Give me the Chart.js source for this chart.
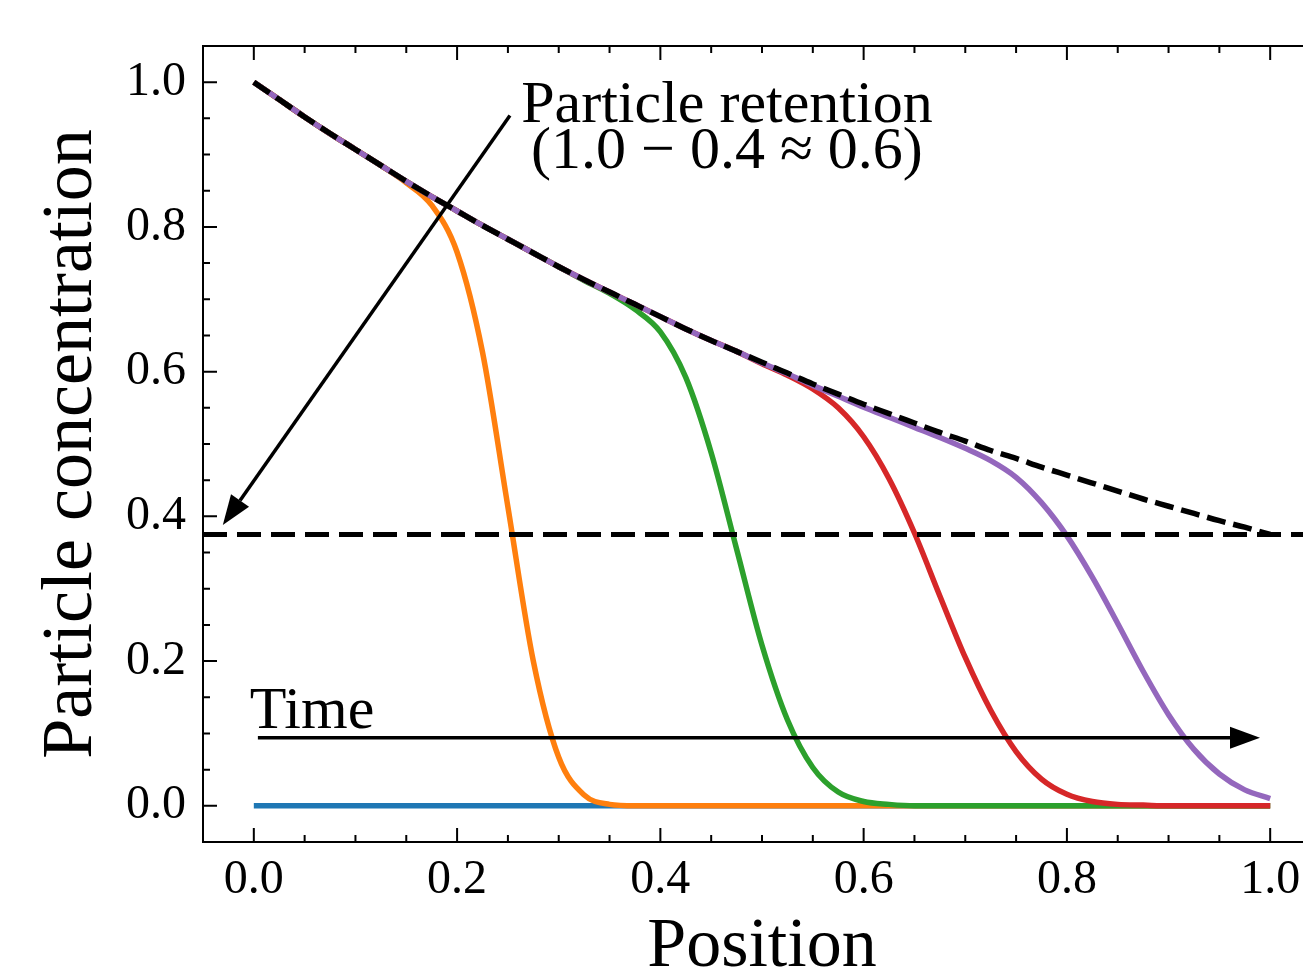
<!DOCTYPE html>
<html>
<head>
<meta charset="utf-8">
<script src="https://cdn.jsdelivr.net/npm/chart.js@4.4.1/dist/chart.umd.min.js"></script>
<style>
  html, body { margin: 0; padding: 0; background: #fff; overflow: hidden; }
  canvas { display: block; }
</style>
</head>
<body>
<canvas id="myChart" width="1341" height="1000" style="width:1341px;height:1000px"></canvas>
<script>
//data block
const positions = [0, 0.025, 0.05, 0.075, 0.1, 0.125, 0.15, 0.175, 0.2, 0.225,
  0.25, 0.275, 0.3, 0.325, 0.35, 0.375, 0.4, 0.425, 0.45, 0.475,
  0.5, 0.525, 0.55, 0.575, 0.6, 0.625, 0.65, 0.675, 0.7, 0.725,
  0.75, 0.775, 0.8, 0.825, 0.85, 0.875, 0.9, 0.925, 0.95, 0.975, 1.0];

const envelope = [1.000, 0.976, 0.952, 0.929, 0.907, 0.885, 0.863, 0.842, 0.822, 0.802,
  0.783, 0.764, 0.745, 0.727, 0.710, 0.693, 0.676, 0.659, 0.643, 0.628,
  0.613, 0.598, 0.583, 0.569, 0.555, 0.542, 0.529, 0.516, 0.504, 0.491,
  0.480, 0.468, 0.457, 0.446, 0.435, 0.424, 0.414, 0.404, 0.394, 0.385, 0.375];

const timeBlue = [0, 0, 0, 0, 0, 0, 0, 0, 0, 0,
  0, 0, 0, 0, 0, 0, 0, 0, 0, 0,
  0, 0, 0, 0, 0, 0, 0, 0, 0, 0,
  0, 0, 0, 0, 0, 0, 0, 0, 0, 0, 0];

const timeOrange = [1.000, 0.976, 0.952, 0.929, 0.907, 0.885, 0.861, 0.830, 0.765, 0.627,
  0.413, 0.200, 0.067, 0.015, 0.002, 0, 0, 0, 0, 0,
  0, 0, 0, 0, 0, 0, 0, 0, 0, 0,
  0, 0, 0, 0, 0, 0, 0, 0, 0, 0, 0];

const timeGreen = [1.000, 0.976, 0.952, 0.929, 0.907, 0.885, 0.863, 0.842, 0.822, 0.802,
  0.783, 0.764, 0.745, 0.726, 0.708, 0.686, 0.655, 0.592, 0.488, 0.355,
  0.222, 0.119, 0.053, 0.019, 0.006, 0.002, 0, 0, 0, 0,
  0, 0, 0, 0, 0, 0, 0, 0, 0, 0, 0];

const timeRed = [1.000, 0.976, 0.952, 0.929, 0.907, 0.885, 0.863, 0.842, 0.822, 0.802,
  0.783, 0.764, 0.745, 0.727, 0.710, 0.693, 0.676, 0.659, 0.643, 0.628,
  0.611, 0.595, 0.576, 0.550, 0.510, 0.452, 0.377, 0.290, 0.205, 0.132,
  0.075, 0.037, 0.016, 0.006, 0.002, 0.001, 0, 0, 0, 0, 0];

const timePurple = [1.000, 0.976, 0.952, 0.929, 0.907, 0.885, 0.863, 0.842, 0.822, 0.802,
  0.783, 0.764, 0.745, 0.727, 0.710, 0.693, 0.676, 0.659, 0.643, 0.628,
  0.612, 0.597, 0.581, 0.566, 0.551, 0.537, 0.523, 0.509, 0.494, 0.477,
  0.454, 0.419, 0.373, 0.316, 0.252, 0.186, 0.126, 0.078, 0.044, 0.022, 0.010];

const retentionLevel = 0.375;
const xTicks = [0, 0.2, 0.4, 0.6, 0.8, 1.0];
const yTicks = [0, 0.2, 0.4, 0.6, 0.8, 1.0];

//setup block
const pts = arr => positions.map((p, i) => ({x: p, y: arr[i]}));

const solid = (label, color, arr, order) => ({
  label,
  data: pts(arr),
  borderColor: color,
  borderWidth: 5.5,
  pointRadius: 0,
  fill: false,
  cubicInterpolationMode: 'monotone',
  borderCapStyle: 'butt',
  order
});

const data = {
  datasets: [
    solid('t0', '#1f77b4', timeBlue, 7),
    solid('t1', '#ff7f0e', timeOrange, 6),
    solid('t2', '#2ca02c', timeGreen, 5),
    solid('t3', '#d62728', timeRed, 4),
    solid('t4', '#9467bd', timePurple, 3),
    {
      label: 'envelope',
      data: pts(envelope),
      borderColor: '#000',
      borderWidth: 5.5,
      borderDash: [19, 8],
      pointRadius: 0,
      cubicInterpolationMode: 'monotone',
      order: 2
    },
    {
      label: 'retention',
      data: [{x: -0.05, y: retentionLevel}, {x: 1.05, y: retentionLevel}],
      borderColor: '#000',
      borderWidth: 5,
      borderDash: [24, 10],
      pointRadius: 0,
      order: 1
    }
  ]
};

const FONT = '"Liberation Serif", "DejaVu Serif", serif';

function arrow(ctx, x0, y0, x1, y1) {
  const ang = Math.atan2(y1 - y0, x1 - x0);
  const hl = 30, hw = 11;
  const bx = x1 - hl * Math.cos(ang), by = y1 - hl * Math.sin(ang);
  ctx.beginPath();
  ctx.moveTo(x0, y0);
  ctx.lineTo(bx, by);
  ctx.stroke();
  ctx.beginPath();
  ctx.moveTo(x1, y1);
  ctx.lineTo(bx + hw * Math.sin(ang), by - hw * Math.cos(ang));
  ctx.lineTo(bx - hw * Math.sin(ang), by + hw * Math.cos(ang));
  ctx.closePath();
  ctx.fill();
}

// frame, inward ticks on all sides, arrows and notes
const frameAndNotes = {
  id: 'frameAndNotes',
  afterDatasetsDraw(chart) {
    const {ctx, chartArea: a, scales: {x, y}} = chart;
    ctx.save();
    ctx.strokeStyle = '#000';
    ctx.fillStyle = '#000';
    ctx.lineWidth = 2;
    ctx.strokeRect(a.left, a.top, a.right - a.left, a.bottom - a.top);

    ctx.beginPath();
    for (let k = 0; k <= 20; k++) {
      const v = k * 0.05;
      const len = k % 4 === 0 ? 14 : 7;
      const px = x.getPixelForValue(v);
      ctx.moveTo(px, a.bottom); ctx.lineTo(px, a.bottom - len);
      ctx.moveTo(px, a.top); ctx.lineTo(px, a.top + len);
      const py = y.getPixelForValue(v);
      ctx.moveTo(a.left, py); ctx.lineTo(a.left + len, py);
      ctx.moveTo(a.right, py); ctx.lineTo(a.right - len, py);
    }
    ctx.stroke();

    // arrows
    ctx.lineWidth = 3.5;
    arrow(ctx, x.getPixelForValue(0.252), y.getPixelForValue(0.954),
      x.getPixelForValue(-0.0305), y.getPixelForValue(0.388));
    arrow(ctx, x.getPixelForValue(0.004), y.getPixelForValue(0.094),
      x.getPixelForValue(0.990), y.getPixelForValue(0.094));

    // notes
    ctx.font = '60px ' + FONT;
    ctx.textBaseline = 'alphabetic';
    ctx.textAlign = 'center';
    const cx = x.getPixelForValue(0.4655);
    const cy = y.getPixelForValue(0.945);
    ctx.fillText('Particle retention', cx, cy);
    ctx.fillText('(1.0 \u2212 0.4 \u2248 0.6)', cx, cy + 46);
    ctx.textAlign = 'left';
    ctx.fillText('Time', x.getPixelForValue(-0.004), y.getPixelForValue(0.108));
    ctx.restore();
  }
};

//config block
const config = {
  type: 'line',
  data,
  options: {
    responsive: false,
    devicePixelRatio: 1,
    animation: false,
    layout: {padding: {left: 0, top: 46, right: 20, bottom: 0}},
    plugins: {
      legend: {display: false},
      tooltip: {enabled: false}
    },
    scales: {
      x: {
        type: 'linear',
        min: -0.05,
        max: 1.05,
        afterBuildTicks: s => { s.ticks = xTicks.map(v => ({value: v})); },
        afterFit: s => { s.height = 158; },
        grid: {display: false, drawTicks: false},
        border: {display: false},
        ticks: {
          padding: 10,
          color: '#000',
          font: {family: FONT, size: 48},
          callback: v => v.toFixed(1)
        },
        title: {
          display: true,
          text: 'Position',
          color: '#000',
          font: {family: FONT, size: 70, lineHeight: 1},
          padding: {top: 0, bottom: 17}
        }
      },
      y: {
        type: 'linear',
        min: -0.05,
        max: 1.05,
        afterBuildTicks: s => { s.ticks = yTicks.map(v => ({value: v})); },
        afterFit: s => { s.width = 203; },
        grid: {display: false, drawTicks: false},
        border: {display: false},
        ticks: {
          padding: 17,
          color: '#000',
          font: {family: FONT, size: 48},
          callback: v => v.toFixed(1)
        },
        title: {
          display: true,
          text: 'Particle concentration',
          color: '#000',
          font: {family: FONT, size: 72, lineHeight: 1},
          padding: {top: 36, bottom: 0}
        }
      }
    }
  },
  plugins: [frameAndNotes]
};

//render block
const myChart = new Chart(
  document.getElementById('myChart'),
  config
);
</script>
</body>
</html>
